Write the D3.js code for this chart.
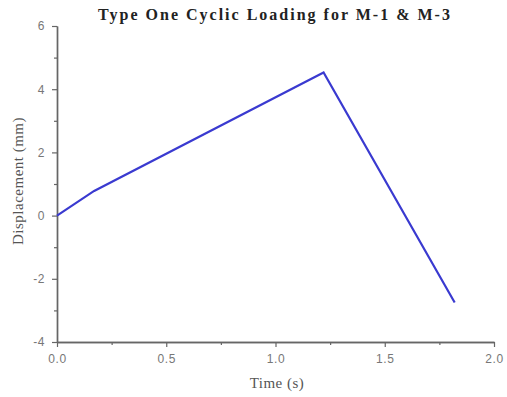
<!DOCTYPE html>
<html>
<head>
<meta charset="utf-8">
<script src="https://cdn.jsdelivr.net/npm/d3@7"></script>
<style>
  html, body { margin: 0; padding: 0; background: #fff; }
  svg { display: block; }
</style>
</head>
<body>
<svg id="chart" width="507" height="397"></svg>
<script>
// Displacement history for the type-one cyclic load
const timeValues = [0.0, 0.17, 1.22, 1.82];
const displacementValues = [0.0, 0.78, 4.53, -2.75];
const xTickValues = [0.0, 0.5, 1.0, 1.5, 2.0];
const yTickValues = [-4, -2, 0, 2, 4, 6];
const xMinorTicks = [0.25, 0.75, 1.25, 1.75];
const yMinorTicks = [-3, -1, 1, 3, 5];

const svg = d3.select("#chart");
const plotLeft = 57, plotRight = 494, plotTop = 26, plotBottom = 342;

const x = d3.scaleLinear().domain([0, 2]).range([plotLeft, plotRight]);
const y = d3.scaleLinear().domain([-4, 6]).range([plotBottom, plotTop]);

const axisColor = "#666";
const serif = "'Liberation Serif', 'Times New Roman', serif";

// x axis
const gx = svg.append("g").attr("transform", `translate(0,${plotBottom})`)
  .call(d3.axisBottom(x).tickValues(xTickValues).tickFormat(d => d.toFixed(1)).tickSize(5).tickSizeOuter(0));
const gxm = svg.append("g").attr("transform", `translate(0,${plotBottom})`)
  .call(d3.axisBottom(x).tickValues(xMinorTicks).tickFormat("").tickSize(3).tickSizeOuter(0));

// y axis
const gy = svg.append("g").attr("transform", `translate(${plotLeft},0)`)
  .call(d3.axisLeft(y).tickValues(yTickValues).tickFormat(d => String(d)).tickSize(5).tickSizeOuter(0));
const gym = svg.append("g").attr("transform", `translate(${plotLeft},0)`)
  .call(d3.axisLeft(y).tickValues(yMinorTicks).tickFormat("").tickSize(3).tickSizeOuter(0));

[gx, gxm, gy, gym].forEach(g => {
  g.selectAll(".domain").attr("stroke", axisColor).attr("stroke-width", 1.4);
  g.selectAll(".tick line").attr("stroke", axisColor).attr("stroke-width", 1.2);
  g.selectAll(".tick text")
    .attr("fill", "#777")
    .style("font-family", "'Liberation Sans', Arial, sans-serif")
    .style("font-size", "12px")
    .style("letter-spacing", "0.6px");
});
gx.selectAll(".tick text").attr("dy", "1.05em");
gy.selectAll(".tick text").attr("x", -12);

// displacement line
const pts = timeValues.map((t, i) => [t, displacementValues[i]]);
svg.append("path")
  .datum(pts)
  .attr("fill", "none")
  .attr("stroke", "#3a3ad0")
  .attr("stroke-width", 2.2)
  .attr("stroke-linejoin", "miter")
  .attr("d", d3.line().x(d => x(d[0])).y(d => y(d[1])));

// title
svg.append("text")
  .attr("x", 275).attr("y", 20)
  .attr("text-anchor", "middle")
  .style("font-family", serif)
  .style("font-weight", "bold")
  .style("font-size", "16px")
  .style("letter-spacing", "2px")
  .attr("fill", "#222")
  .text("Type One Cyclic Loading for M-1 & M-3");

// axis titles
svg.append("text")
  .attr("x", 277).attr("y", 388)
  .attr("text-anchor", "middle")
  .style("font-family", serif)
  .style("font-size", "15px")
  .style("letter-spacing", "0.5px")
  .attr("fill", "#555")
  .text("Time (s)");

svg.append("text")
  .attr("transform", "translate(23,181) rotate(-90)")
  .attr("text-anchor", "middle")
  .style("font-family", serif)
  .style("font-size", "15px")
  .style("letter-spacing", "0.5px")
  .attr("fill", "#555")
  .text("Displacement (mm)");
</script>
</body>
</html>
